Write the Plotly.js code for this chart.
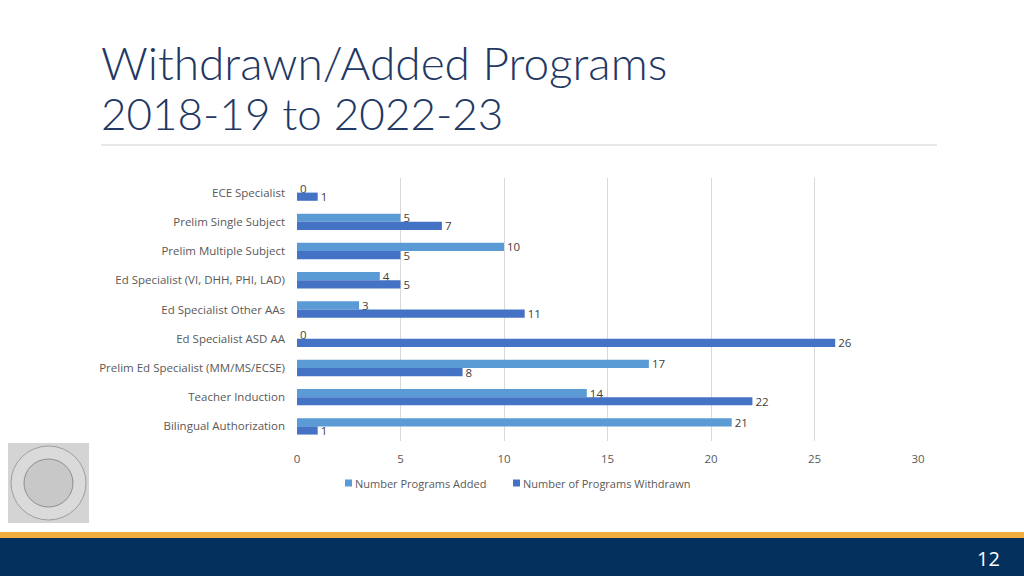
<!DOCTYPE html>
<html><head><meta charset="utf-8">
<script src="https://cdn.plot.ly/plotly-3.0.1.min.js"></script>
<style>html,body{margin:0;padding:0;background:#fff;}#chart{width:1024px;height:576px;}</style>
</head><body><div id="chart"></div>
<script>
const categories = ["ECE Specialist","Prelim Single Subject","Prelim Multiple Subject","Ed Specialist (VI, DHH, PHI, LAD)","Ed Specialist Other AAs","Ed Specialist ASD AA","Prelim Ed Specialist (MM/MS/ECSE)","Teacher Induction","Bilingual Authorization"];
const added = [0,5,10,4,3,0,17,14,21];
const withdrawn = [1,7,5,5,11,26,8,22,1];
const seriesNames = ["Number Programs Added","Number of Programs Withdrawn"];
const seriesColors = ['#5B9BD5','#4472C4'];
const xTicks = [0,5,10,15,20,25,30];

const L=297,R=918,T=178,B=441,W=1024,H=576;
const px = x => (x-L)/(R-L);
const py = y => (B-y)/(B-T);
const txt = '#595959';
const font = {family:'Open Sans, Noto Sans, sans-serif', size:11.5, color:txt};
const legFont = {family:'Open Sans, Noto Sans, sans-serif', size:11, color:txt};
const lblFont = {family:'Open Sans, Noto Sans, sans-serif', size:11.5, color:'#404040'};

const traces = [
 {type:'bar', orientation:'h', name:seriesNames[0], y:categories, x:added, marker:{color:seriesColors[0]},
  text:added.map(String), textposition:'outside', constraintext:'none', textfont:lblFont, cliponaxis:false, hoverinfo:'none', showlegend:false},
 {type:'bar', orientation:'h', name:seriesNames[1], y:categories, x:withdrawn, marker:{color:seriesColors[1]},
  text:withdrawn.map(String), textposition:'outside', constraintext:'none', textfont:lblFont, cliponaxis:false, hoverinfo:'none', showlegend:false}
];

// legend drawn in pixel positions
const legendX = [345, 513];
const legendShapes = seriesColors.map((c,i)=>({type:'rect', xref:'paper', yref:'paper', x0:px(legendX[i]), x1:px(legendX[i]+7), y0:py(479.5), y1:py(486.5), fillcolor:c, line:{width:0}}));
const legendAnn = seriesNames.map((n,i)=>({xref:'paper', yref:'paper', x:px(legendX[i]+8), y:py(483), xanchor:'left', yanchor:'middle', showarrow:false, text:n, font:legFont}));

const layout = {
 width:W, height:H, paper_bgcolor:'#fff', plot_bgcolor:'#fff',
 margin:{l:L, r:W-R, t:T, b:H-B, pad:0},
 barmode:'group', bargap:0.44, bargroupgap:0,
 showlegend:false,
 xaxis:{range:[0,30], tickvals:xTicks, showgrid:true, gridcolor:'#D9D9D9', gridwidth:1, zeroline:false, showline:false, ticks:'', tickfont:font, ticklabelstandoff:9, fixedrange:true},
 yaxis:{autorange:'reversed', type:'category', showgrid:false, zeroline:false, showline:false, ticks:'', tickfont:font, ticklabelstandoff:11, fixedrange:true},
 annotations:[
  {xref:'paper', yref:'paper', x:px(99), y:py(62), xanchor:'left', yanchor:'middle', showarrow:false,
   text:'Withdrawn/Added Programs', font:{family:'Lato, Open Sans, sans-serif', size:46, weight:300, color:'#1F3864'}},
  {xref:'paper', yref:'paper', x:px(99), y:py(113), xanchor:'left', yanchor:'middle', showarrow:false,
   text:'2018-19 to 2022-23', font:{family:'Lato, Open Sans, sans-serif', size:44, weight:300, color:'#1F3864'}},
  {xref:'paper', yref:'paper', x:px(988), y:py(558), xanchor:'center', yanchor:'middle', showarrow:false,
   text:'12', font:{family:'Open Sans, sans-serif', size:20, color:'#FFFFFF'}}
 ].concat(legendAnn),
 shapes:[
  {type:'line', xref:'paper', yref:'paper', x0:px(101), x1:px(937), y0:py(145), y1:py(145), line:{color:'#D0D0D0', width:1}},
  {type:'rect', xref:'paper', yref:'paper', x0:px(0), x1:px(1024), y0:py(532), y1:py(538), fillcolor:'#F2AE3F', line:{width:0}},
  {type:'rect', xref:'paper', yref:'paper', x0:px(0), x1:px(1024), y0:py(538), y1:py(576), fillcolor:'#04305E', line:{width:0}},
  {type:'rect', xref:'paper', yref:'paper', x0:px(8), x1:px(89), y0:py(443), y1:py(523), fillcolor:'#D4D4D4', line:{width:0}},
  {type:'circle', xref:'paper', yref:'paper', x0:px(11), x1:px(86), y0:py(446), y1:py(520), fillcolor:'#DADADA', line:{color:'#9E9E9E', width:1}},
  {type:'circle', xref:'paper', yref:'paper', x0:px(24), x1:px(73), y0:py(459), y1:py(507), fillcolor:'#C8C8C8', line:{color:'#8E8E8E', width:1}}
 ].concat(legendShapes)
};
Plotly.newPlot('chart', traces, layout, {displayModeBar:false, staticPlot:true});
</script></body></html>
